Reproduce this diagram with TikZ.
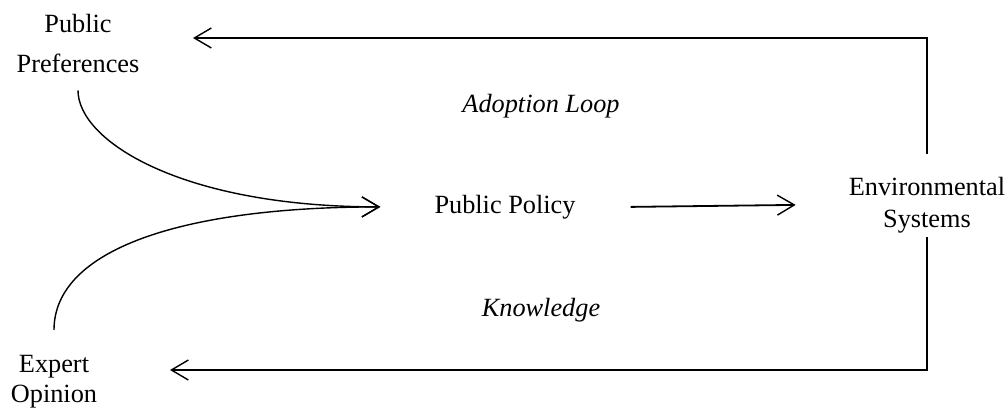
\documentclass[tikz,border=0pt]{standalone}
\usepackage{fontspec}
\setmainfont{Liberation Serif}
\usetikzlibrary{arrows.meta}
\begin{document}
\begin{tikzpicture}[x=1pt,y=-1pt,
  lbl/.style={inner sep=0pt, font=\fontsize{26.3}{32}\selectfont, align=center},
  loop/.style={lbl, font=\fontsize{26.3}{32}\selectfont\itshape},
  arr/.style={line width=1.4pt, -{Straight Barb[length=17pt,width=20pt,line width=1.4pt]}},
  straight/.style={arr, line width=1.8pt}]
\useasboundingbox (0,0) rectangle (1007,408);
\node[lbl, font=\fontsize{26.3}{40}\selectfont] (pref) at (78,43) {Public\\Preferences};
\node[lbl, font=\fontsize{26.3}{30}\selectfont] (expert) at (54,381.2) {Expert\\Opinion};
\node[lbl] (policy) at (505,206.9) {Public Policy};
\node[lbl] (env) at (927,204.9) {Environmental\\Systems};
\node[loop] (adopt) at (541,105.9) {Adoption Loop};
\node[loop] (know) at (541,309.9) {Knowledge};
\coordinate (topend) at (193,38);
\coordinate (botend) at (170,370);
\draw[arr] ([yshift=-18pt]pref.south) .. controls +(0,50) and +(-200,0) .. ([xshift=-54pt]policy.west);
\draw[arr] ([yshift=24.6pt]expert.north) .. controls +(0,-80) and +(-200,0) .. ([xshift=-54pt]policy.west);
\draw[straight] ([xshift=55pt]policy.east) -- ([xshift=-53pt]env.west);
\draw[straight] ([yshift=23pt]env.north) |- (topend);
\draw[straight] ([yshift=-4.3pt]env.south) |- (botend);
\end{tikzpicture}
\end{document}
